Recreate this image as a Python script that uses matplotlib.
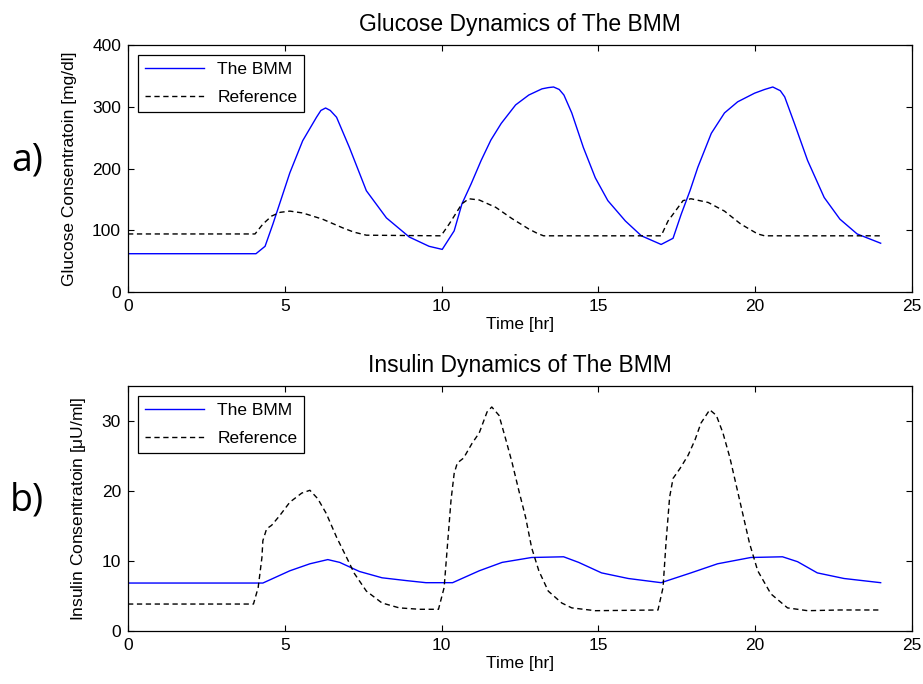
import numpy as np
import matplotlib
matplotlib.use("Agg")
import matplotlib.pyplot as plt

# Glucose, model output (The BMM)
t_glu_bmm = [0, 4.08, 4.37, 4.62, 4.9, 5.16, 5.57, 6.01, 6.15, 6.3, 6.45, 6.65,
             7.06, 7.6, 8.24, 8.97, 9.6, 10.02, 10.4, 10.65, 10.94, 11.26,
             11.57, 11.9, 12.36, 12.78, 13.2, 13.4, 13.57, 13.75, 13.9, 14.15,
             14.52, 14.9, 15.3, 15.86, 16.37, 17.0, 17.38, 17.64, 17.92, 18.17,
             18.6, 19.02, 19.44, 19.98, 20.3, 20.56, 20.8, 20.94, 21.25, 21.67,
             22.2, 22.7, 23.25, 24.0]
glu_bmm = [62, 62, 74, 110, 153, 193, 245, 283, 294, 298, 294, 283,
           234, 164, 120, 89, 74, 69, 99, 143, 175, 213,
           246, 273, 303, 319, 329, 331, 332, 328, 319, 290,
           234, 185, 148, 115, 91, 77, 87, 126, 164, 202,
           257, 290, 308, 322, 328, 332, 326, 316, 273, 213,
           153, 118, 94, 79]

# Glucose, reference
t_glu_ref = [0, 4.05, 4.3, 4.58, 4.85, 5.16, 5.57, 6.2, 6.84, 7.2, 7.6, 9.98,
             10.24, 10.65, 10.87, 11.2, 11.73, 12.24, 12.78, 13.05, 13.25,
             17.0, 17.22, 17.7, 17.95, 18.5, 19.02, 19.54, 20.08, 20.3, 24.0]
glu_ref = [94, 94, 110, 123, 129, 131, 128, 118, 104, 97, 92, 91,
           110, 143, 151, 149, 137, 119, 102, 95, 91,
           91, 115, 148, 151, 145, 131, 110, 94, 91, 91]

# Insulin, model output (The BMM)
t_ins_bmm = [0, 4.3, 5.16, 5.8, 6.37, 6.75, 7.38, 8.1, 8.87, 9.5, 10.35, 11.2,
             11.93, 12.87, 13.89, 14.37, 15.1, 15.95, 17.0, 17.95, 18.8,
             19.86, 20.87, 21.35, 21.98, 22.83, 24.0]
ins_bmm = [6.85, 6.85, 8.6, 9.6, 10.2, 9.8, 8.5, 7.6, 7.2, 6.9, 6.9, 8.6,
           9.8, 10.5, 10.6, 9.8, 8.3, 7.5, 6.9, 8.3, 9.6,
           10.5, 10.6, 9.9, 8.3, 7.5, 6.9]

# Insulin, reference
t_ins_ref = [0, 4.0, 4.15, 4.27, 4.3, 4.42, 4.58, 4.84, 5.16, 5.54, 5.8, 6.05,
             6.32, 6.65, 6.97, 7.22, 7.6, 8.1, 8.65, 9.3, 9.9, 10.08, 10.18,
             10.3, 10.4, 10.5, 10.7, 10.97, 11.2, 11.45, 11.6, 11.83, 12.05,
             12.25, 12.46, 12.68, 12.87, 13.1, 13.4, 13.83, 14.15, 14.9, 16.9,
             17.06, 17.16, 17.27, 17.38, 17.6, 17.86, 18.08, 18.27, 18.55,
             18.76, 18.97, 19.19, 19.38, 19.6, 19.82, 20.08, 20.5, 21.03,
             21.67, 22.7, 24.0]
ins_ref = [3.85, 3.85, 6.2, 10.5, 12.9, 14.6, 15.1, 16.5, 18.4, 19.7, 20.1, 18.9,
           16.8, 13.4, 10.5, 8.2, 5.7, 4.0, 3.3, 3.1, 3.1, 6.2, 11.9,
           18.7, 22.5, 24.0, 24.7, 26.8, 28.3, 31.3, 32.0, 30.8, 27.3,
           24.0, 20.1, 16.2, 11.9, 8.6, 5.7, 4.0, 3.3, 2.9, 3.0,
           6.2, 12.9, 19.1, 21.8, 23.2, 25.1, 27.3, 29.7, 31.6,
           30.8, 28.3, 24.8, 21.1, 16.8, 12.5, 8.6, 5.3, 3.3,
           2.9, 3.0, 3.0]

plt.rcParams["font.family"] = ["Liberation Sans", "DejaVu Sans"]
plt.rcParams["font.size"] = 12.5

fig = plt.figure(figsize=(9.23, 6.84), dpi=100)
ax1 = fig.add_axes([0.1387, 0.5731, 0.8494, 0.3611])
ax2 = fig.add_axes([0.1387, 0.0775, 0.8494, 0.3582])

dash = (0, (3.8, 2.6))


def style_axes(ax, ylim, yticks):
    ax.set_xlim(0, 25)
    ax.set_ylim(*ylim)
    ax.set_xticks(range(0, 26, 5))
    ax.set_yticks(yticks)
    ax.tick_params(direction="in", top=True, right=True, length=4,
                   width=0.8, labelsize=12.5, pad=5)
    for sp in ax.spines.values():
        sp.set_linewidth(0.9)
    ax.set_xlabel("Time [hr]", labelpad=2)
    leg = ax.legend(loc="upper left", frameon=True, fancybox=False,
                    edgecolor="black", framealpha=1, handlelength=3.4,
                    borderaxespad=0.55, labelspacing=0.75, fontsize=12.5)
    leg.get_frame().set_linewidth(0.9)


ax1.plot(t_glu_bmm, glu_bmm, color="blue", lw=1.0, label="The BMM")
ax1.plot(t_glu_ref, glu_ref, color="black", lw=1.0, linestyle=dash,
         label="Reference")
ax1.set_title("Glucose Dynamics of The BMM", fontsize=16.5, pad=10)
ax1.set_ylabel("Glucose Consentratoin [mg/dl]", labelpad=11)
style_axes(ax1, (0, 400), range(0, 401, 100))

ax2.plot(t_ins_bmm, ins_bmm, color="blue", lw=1.0, label="The BMM")
ax2.plot(t_ins_ref, ins_ref, color="black", lw=1.0, linestyle=dash,
         label="Reference")
ax2.set_title("Insulin Dynamics of The BMM", fontsize=16.5, pad=10)
ax2.set_ylabel(r"Insulin Consentratoin [$\mathregular{\mu}$U/ml]", labelpad=10)
style_axes(ax2, (0, 35), range(0, 31, 10))

fig.text(0.029, 0.766, "a)", fontsize=27, ha="center", va="center",
         family="Open Sans")
fig.text(0.029, 0.269, "b)", fontsize=27, ha="center", va="center",
         family="Open Sans")

fig.savefig("out.png", dpi=100)
